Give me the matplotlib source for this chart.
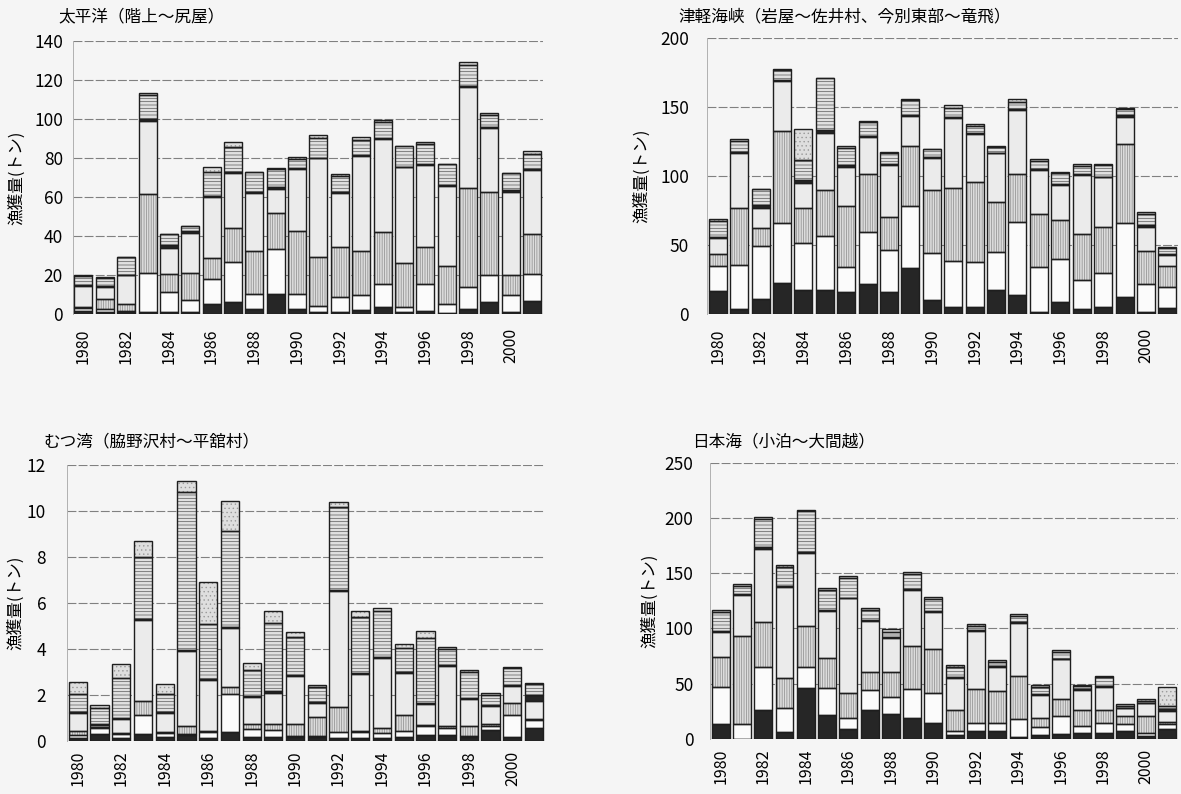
import matplotlib.pyplot as plt
import numpy as np

plt.rcParams['font.family'] = ['Noto Sans CJK JP', 'DejaVu Sans']
plt.rcParams['hatch.linewidth'] = 0.5

years = list(range(1980, 2002))

# 太平洋（階上～尻屋） 各区分の漁獲量（トン）
pac_black = [1.5, 1, 1, 1.4, 1, 1, 5.1, 6.5, 2.6, 10.4, 3, 1, 1, 2.2, 3.9, 1, 1.5, 0.5, 2.6, 6.5, 1.4, 7]
pac_white = [2, 2, 1, 19.6, 10.4, 6.3, 12.8, 20.1, 8.1, 22.9, 7.4, 3.3, 8, 7.7, 11.5, 2.6, 14, 4.6, 11.2, 13.6, 8.5, 13.6]
pac_vline = [0.5, 5, 3.3, 40.6, 9.2, 14, 10.8, 17.4, 21.9, 18.4, 32.4, 24.9, 25.6, 22.7, 26.6, 22.5, 18.8, 19.8, 50.7, 42.7, 10.2, 20.3]
pac_dot = [10.5, 6, 14.8, 37.5, 13.2, 20.2, 31.5, 28.2, 29.3, 12.3, 31.4, 50.6, 27.3, 48.4, 47.6, 49.1, 42.1, 40.8, 52, 32.4, 42.3, 33]
pac_thin = [0.3, 0.3, 0.3, 1, 1.6, 1, 0.5, 0.8, 0.5, 1, 0.7, 0.3, 0.5, 0.5, 0.5, 0.3, 0.8, 0.3, 0.5, 0.5, 1.2, 0.5]
pac_hline = [5, 4.5, 9.2, 12, 5.6, 2.5, 12.3, 12.8, 10.3, 9.2, 4.5, 10.2, 8.4, 7.7, 8.5, 10.8, 9.9, 11.1, 10.6, 6.3, 8.9, 7.6]
pac_top = [0.5, 0.3, 0, 1, 0, 0.3, 2.6, 2.6, 0, 0.5, 1.4, 1.3, 1, 1.6, 0.9, 0, 1.1, 0, 1.4, 1.2, 0, 1.4]

# 津軽海峡
tsu_black = [17.1, 3.6, 11.1, 22.4, 17.6, 17.6, 15.9, 21.7, 15.9, 33.3, 10.4, 5.1, 5.1, 17.6, 14, 1.9, 9.2, 3.6, 5.1, 12.8, 1.9, 4.3]
tsu_white = [17.8, 32.1, 38.5, 43.9, 33.7, 39, 18.6, 37.6, 30.6, 45, 33.7, 33.7, 32.5, 27.7, 53, 32.1, 30.8, 21.2, 24.5, 53.5, 20, 15.2]
tsu_vline = [8.5, 41.6, 12.6, 66.5, 26, 33.3, 43.8, 42.1, 24.1, 43.4, 45.8, 52.3, 57.8, 36.1, 34.4, 38.5, 28.2, 33, 33.8, 56.8, 24.1, 15.7]
tsu_dot = [12, 39.6, 15.1, 35.9, 17.9, 41.4, 28.4, 27, 37.4, 21.7, 22.9, 50.6, 35.4, 35, 46.3, 31.8, 25.3, 43.1, 35.6, 19.8, 17.4, 7.7]
tsu_thin = [0.5, 0.5, 1.9, 0.5, 1.9, 1.9, 1, 0.5, 1, 1, 1, 0.8, 0.5, 0.5, 0.5, 0.8, 0.5, 0.8, 0.5, 1, 1, 0.5]
tsu_hline = [11.6, 8, 11.4, 7.4, 14.5, 37.6, 12.3, 10.4, 7.9, 10.5, 5.5, 7.1, 4.8, 3.8, 5.5, 6, 7.9, 5.3, 8.3, 4.3, 7.9, 4.3]
tsu_top = [1.4, 1.6, 0, 1.2, 22.1, 0, 1.9, 0.7, 0.7, 1.2, 0.2, 1.7, 1.9, 1.2, 1.7, 1.2, 1.2, 1.4, 1.2, 1.4, 1.7, 1.2]

# むつ湾
mut_black = [0.1, 0.28, 0.1, 0.28, 0.17, 0.25, 0.1, 0.36, 0.17, 0.17, 0.17, 0.17, 0.1, 0.1, 0.1, 0.17, 0.25, 0.25, 0.15, 0.46, 0.15, 0.54]
mut_white = [0.15, 0.26, 0.19, 0.84, 0.15, 0.05, 0.29, 1.67, 0.32, 0.29, 0.05, 0.05, 0.26, 0.29, 0.25, 0.27, 0.39, 0.29, 0.05, 0.2, 0.97, 0.36]
mut_vline = [0.19, 0.05, 0.05, 0.62, 0.05, 0.34, 0.05, 0.32, 0.24, 0.27, 0.51, 0.82, 1.12, 0.05, 0.19, 0.68, 0.05, 0.1, 0.44, 0.05, 0.53, 0.05]
mut_dot = [0.75, 0.1, 0.59, 3.51, 0.82, 3.28, 2.2, 2.56, 1.16, 1.36, 2.09, 0.59, 5.05, 2.46, 3.07, 1.83, 0.91, 2.6, 1.16, 0.8, 0.74, 0.8]
mut_thin = [0.05, 0.05, 0.05, 0.05, 0.05, 0.05, 0.05, 0.05, 0.05, 0.08, 0.05, 0.05, 0.05, 0.05, 0.05, 0.05, 0.05, 0.05, 0.05, 0.05, 0.05, 0.22]
mut_hline = [0.79, 0.7, 1.73, 2.68, 0.79, 6.84, 2.39, 4.16, 1.14, 2.94, 1.66, 0.67, 3.58, 2.45, 2, 1.04, 2.83, 0.69, 1.15, 0.43, 0.71, 0.5]
mut_top = [0.52, 0.1, 0.61, 0.71, 0.42, 0.5, 1.81, 1.31, 0.32, 0.55, 0.19, 0.07, 0.25, 0.26, 0.13, 0.17, 0.31, 0.08, 0.08, 0.07, 0.07, 0.06]

# 日本海
jpn_black = [13.3, 0, 26.2, 6, 45.8, 21.7, 8.7, 26.2, 22.6, 18.7, 14.8, 3.6, 7.5, 7.5, 2.1, 3.6, 4.5, 5.7, 5.7, 7.5, 2.7, 8.7]
jpn_white = [34, 13.3, 39.2, 21.7, 19.6, 24.7, 10, 18.1, 15.1, 26.2, 26.5, 3.9, 6.7, 6.7, 15.7, 7, 16.3, 6.1, 9.1, 6.1, 2.4, 4.9]
jpn_vline = [26.6, 79.9, 40.8, 27.2, 37.1, 27.2, 23.2, 16, 22.6, 39.2, 39.8, 18.7, 30.7, 29.2, 39.2, 8.1, 15.1, 14.4, 11.4, 7.2, 15.7, 2]
jpn_dot = [23.2, 37.1, 65.4, 82.9, 65.5, 42.5, 85.4, 46.8, 31.4, 50.7, 34.1, 28.7, 53.1, 22, 47.6, 21.1, 36.2, 18.1, 21.1, 6.9, 11.5, 10.1]
jpn_thin = [1, 0.5, 1.8, 0.5, 1, 1, 0.5, 0.5, 1, 0.5, 0.5, 1, 0.5, 0.5, 1, 0.5, 0.5, 0.5, 0.5, 0.5, 0.5, 1]
jpn_hline = [16.4, 7.6, 25.6, 17, 37, 17.7, 17.6, 9.1, 4.4, 14, 11, 8.9, 3.7, 4.1, 5.7, 7, 5.8, 3, 8, 1.7, 1.9, 3]
jpn_top = [2.2, 1.8, 1.5, 2.1, 1.2, 2.1, 2.4, 2.1, 2.4, 1.5, 2.1, 2.1, 1.8, 1.5, 1.8, 1.6, 2.1, 1.1, 1.5, 1.8, 1.2, 17.6]

# 積み上げの塗り (面色, ハッチ, ハッチ色)
styles = [
    ('#262626', None, '#262626'),
    ('#fbfbfb', None, '#fbfbfb'),
    ('#dcdcdc', '|||||||', '#8a8a8a'),
    ('#ebebeb', None, '#ebebeb'),
    ('#262626', None, '#262626'),
    ('#e0e0e0', '-----', '#5a5a5a'),
    ('#dedede', '....', '#9a9a9a'),
]


def draw_panel(ax, series, ymax, step):
    bottom = np.zeros(len(years))
    for vals, (fc, hatch, hc) in zip(series, styles):
        vals = np.array(vals)
        ax.bar(years, vals, 0.84, bottom=bottom, color=fc, hatch=hatch,
               edgecolor=hc, linewidth=0, zorder=2)
        ax.bar(years, vals, 0.84, bottom=bottom, fill=False,
               edgecolor='#1e1e1e', linewidth=1.0, zorder=3)
        bottom += vals
    ax.set_xlim(1979.5, 2001.5)
    ax.set_ylim(0, ymax)
    ax.set_yticks(np.arange(0, ymax + step / 2, step))
    ax.set_xticks(years[::2])
    ax.set_xticklabels([str(y) for y in years[::2]], rotation=90, fontsize=11.5)
    ax.tick_params(axis='y', length=0, labelsize=12.5, pad=9)
    ax.tick_params(axis='x', length=0, pad=10)
    ax.yaxis.grid(True, color='#808080', linewidth=0.8, linestyle=(0, (8, 2)))
    ax.set_axisbelow(True)
    ax.set_facecolor('none')
    for s in ['top', 'right', 'bottom']:
        ax.spines[s].set_visible(False)
    ax.spines['left'].set_color('#b0b0b0')
    ax.spines['left'].set_linewidth(0.7)
    ax.set_ylabel('漁獲量(トン)', fontsize=12)


fig = plt.figure(figsize=(11.81, 7.94), dpi=100, facecolor='#f5f5f5')

ax1 = fig.add_axes([0.0616, 0.604, 0.398, 0.3446])
ax2 = fig.add_axes([0.5987, 0.604, 0.3988, 0.3484])
ax3 = fig.add_axes([0.0567, 0.0671, 0.4047, 0.3472])
ax4 = fig.add_axes([0.6012, 0.0693, 0.3963, 0.348])

draw_panel(ax1, [pac_black, pac_white, pac_vline, pac_dot, pac_thin, pac_hline, pac_top], 140, 20)
draw_panel(ax2, [tsu_black, tsu_white, tsu_vline, tsu_dot, tsu_thin, tsu_hline, tsu_top], 200, 50)
draw_panel(ax3, [mut_black, mut_white, mut_vline, mut_dot, mut_thin, mut_hline, mut_top], 12, 2)
draw_panel(ax4, [jpn_black, jpn_white, jpn_vline, jpn_dot, jpn_thin, jpn_hline, jpn_top], 250, 50)

ax1.tick_params(axis='y', pad=7)
ax2.tick_params(axis='y', pad=13)
ax3.tick_params(axis='y', pad=15)
ax4.tick_params(axis='y', pad=12)
ax3.tick_params(axis='x', pad=7)
ax4.tick_params(axis='x', pad=7)
ax1.yaxis.set_label_coords(-0.102, 0.5)
ax2.yaxis.set_label_coords(-0.121, 0.5)
ax3.yaxis.set_label_coords(-0.09, 0.5)
ax4.yaxis.set_label_coords(-0.111, 0.5)

title_kw = dict(fontsize=12, ha='left', va='center')
fig.text(58 / 1181, 1 - 16.5 / 794, '太平洋（階上～尻屋）', **title_kw)
fig.text(678 / 1181, 1 - 16.5 / 794, '津軽海峡（岩屋～佐井村、今別東部～竜飛）', **title_kw)
fig.text(43 / 1181, 1 - 441.5 / 794, 'むつ湾（脇野沢村～平舘村）', **title_kw)
fig.text(692 / 1181, 1 - 441.5 / 794, '日本海（小泊～大間越）', **title_kw)

fig.savefig('out.png', dpi=100, facecolor=fig.get_facecolor())
